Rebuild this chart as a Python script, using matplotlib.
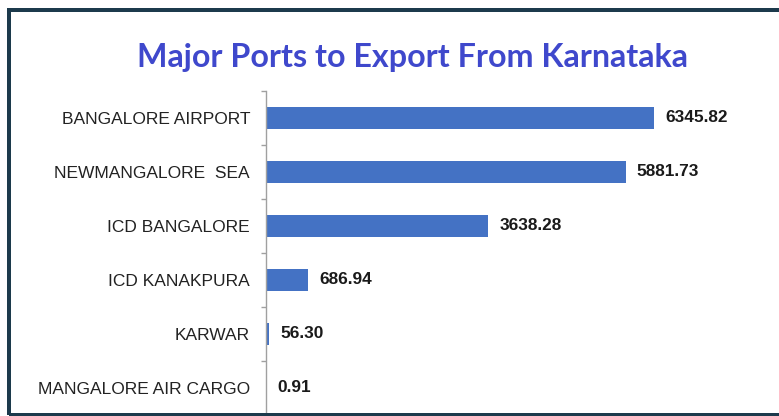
import matplotlib
matplotlib.use("Agg")
import matplotlib.pyplot as plt
from matplotlib.patches import Rectangle
from matplotlib.ticker import FixedLocator

categories = ["BANGALORE AIRPORT", "NEWMANGALORE  SEA", "ICD BANGALORE",
              "ICD KANAKPURA", "KARWAR", "MANGALORE AIR CARGO"]
values = [6345.82, 5881.73, 3638.28, 686.94, 56.30, 0.91]
value_labels = ["6345.82", "5881.73", "3638.28", "686.94", "56.30", "0.91"]
title = "Major Ports to Export From Karnataka"

W, H = 779, 416
DPI = 100
fig = plt.figure(figsize=(W / DPI, H / DPI), dpi=DPI)
fig.patch.set_facecolor("white")

# axes in pixel geometry
ax_left, ax_right = 266, 755
ax_top, ax_bottom = 91, 415
ax = fig.add_axes([ax_left / W, (H - ax_bottom) / H,
                   (ax_right - ax_left) / W, (ax_bottom - ax_top) / H])

n = len(categories)
ypos = list(range(n))
ax.barh(ypos, values, height=0.39, color="#4472C4", zorder=2)
ax.set_xlim(0, 8000)
ax.set_ylim(n - 0.5, -0.5)

ax.set_yticks(ypos)
ax.set_yticklabels(categories, fontsize=12.5, color="#222222",
                   fontfamily="Liberation Sans")
ax.tick_params(axis="y", which="major", length=0, pad=16 * 72 / DPI)
ax.yaxis.set_minor_locator(FixedLocator([i - 0.5 for i in range(n + 1)]))
ax.tick_params(axis="y", which="minor", length=3.5, width=1.0, color="#a0a0a0")
ax.set_xticks([])

for s in ["top", "right", "bottom"]:
    ax.spines[s].set_visible(False)
ax.spines["left"].set_color("#a0a0a0")
ax.spines["left"].set_linewidth(1.0)

for y, v, lab in zip(ypos, values, value_labels):
    ax.annotate(lab, xy=(v, y), xytext=(11 * 72 / DPI, 0),
                textcoords="offset points", va="center", ha="left",
                fontsize=12.4, fontweight="bold", color="#1a1a1a",
                fontfamily="Liberation Sans")

# title, fit to target width
target_w = 688 - 137
t = fig.text(412.5 / W, (H - 67) / H, title, ha="center", va="baseline",
             fontsize=24, fontweight="bold", color="#3F48CC",
             fontfamily="Lato")
fig.canvas.draw()
r = fig.canvas.get_renderer()
w = t.get_window_extent(r).width
t.set_fontsize(24 * target_w / w)

# frame border
border = Rectangle((9 / W, 1.5 / H), (W + 20) / W, (H - 10 - 1.5) / H,
                   transform=fig.transFigure, fill=False,
                   edgecolor="#1C3A4C", linewidth=4 * 72 / DPI, zorder=10)
fig.patches.append(border)

fig.savefig("out.png", dpi=DPI, facecolor="white")
